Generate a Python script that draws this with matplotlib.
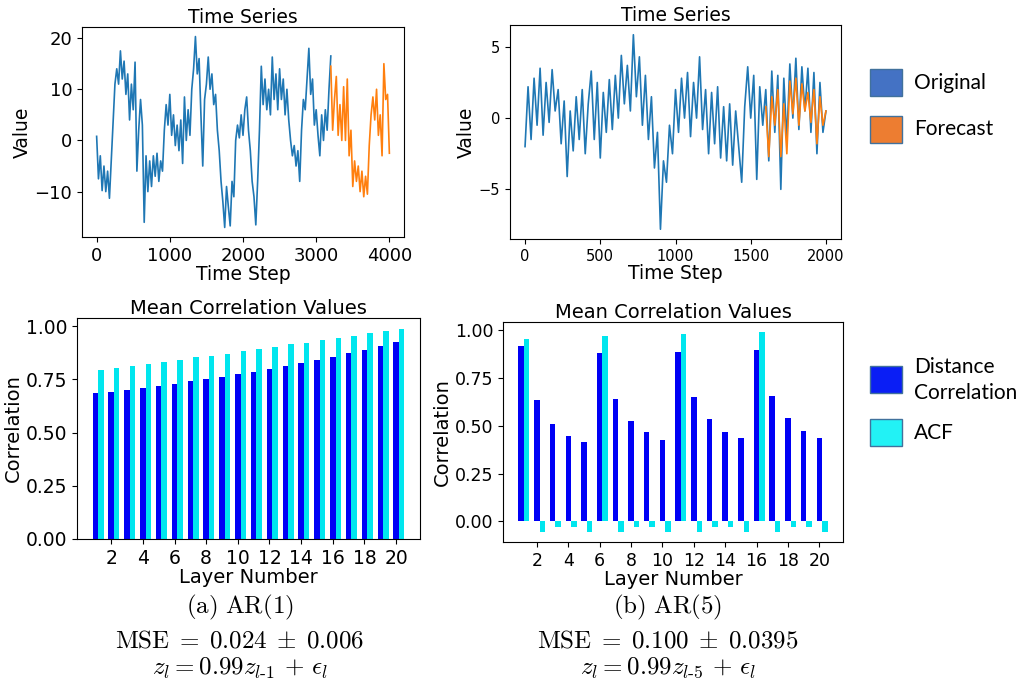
import numpy as np
import matplotlib
matplotlib.use("Agg")
from matplotlib import pyplot as plt
import matplotlib.patches as patches

# AR(1) series, every 25 steps
ar1_step = 25
ar1_fc_start = 3200
ar1_original = [0.8, -7.5, -3, -9.8, -5, -10, -6, -11.3, -4, 3,
                11, 14, 11, 17.5, 12, 15.5, 9, 13, 4, 11,
                6, 15.3, -6, 2, 8, 3, -16, -3, -10, -4,
                -9, -3, -7, -2.5, -8, -4, -6, 2, 7, 3,
                9, 1, 5, -1, 3, -2, 4, -4.5, 8.5, 0,
                6, 1, 10, 14, 20.3, 13, 16, 5, -5, 8,
                11, 16.3, 10, 13, 7, 9, 2, -2, -8, -12,
                -17, -9, -13, -16.7, -8, -11, 0, 3, 0.5, 5,
                1, 6, 8.5, 2, -2, -8, -11, -16.5, -8, 2,
                14.5, 7, 12, 6, 10, 5, 16.3, 8, 13, 6,
                14, 8, 12, 5, 10, 4, 0, -3, -1, -5,
                -2, -8, 2, 8, 6, 12, 18, 9, 12, 3,
                6, 1, -3, 5, 0, 6, 2, 10, 16.5]
ar1_forecast = [14.5, 2, 8, 12.5, 1, 7, 0, 10.5, 0, 12,
                -3, 2, -9, -4, -8, -5, -10, -6, -11, -7,
                -10.5, -1, 5, 8.5, 4, 10, 1, 5, -3, 15,
                8, 9, -2.5]

# AR(5) series, read every 20 steps
ar5_step = 20
ar5_fc_start = 1600
ar5_original = [-2.0, 2.2, -1.5, 2.8, -0.5, 3.5, -1.2, 2.5, -0.3, 3.4,
                0.5, 2.0, -1.8, 1.2, -4.1, 0.5, -2.3, 1.5, -1.5, 2.0,
                -2.5, 1.0, 3.3, -1.5, 2.5, -2.8, 1.8, -1.0, 2.7, -0.8,
                3.0, 0.0, 4.4, 1.0, 3.7, 0.5, 5.85, 1.5, 4.3, -0.5,
                3.0, -1.5, 1.5, -3.5, -1.0, -7.8, -3.0, -4.5, -0.5, -2.5,
                2.0, -1.0, 2.8, 0.0, 3.2, -1.3, 2.5, 0.0, 4.3, -0.8,
                2.0, -2.5, 1.8, -1.8, 2.2, -2.8, 0.8, -3.0, 1.0, -3.3,
                0.5, -2.0, -4.5, 0.8, 3.6, 0.0, 3.0, -4.3, 2.2, -0.5,
                2.0, -3.0, 3.3, -1.0, 3.0, -5.0, 2.8, -1.5, 3.8, 0.0,
                4.2, -0.8, 3.6, 0.5, 3.5, -1.0, 3.2, -2.5, 2.5, -1.0,
                0.5]
ar5_forecast = [0.8, -2.7, 1.5, -0.5, 2.0, -2.7, 1.0, -2.5, 2.6, 0.3,
                2.8, -0.5, 2.4, 0.5, 1.8, -0.3, 2.0, -1.8, 1.5, -0.5,
                0.5]

layers = np.arange(1, 21)
ar1_dcor = [0.685, 0.693, 0.702, 0.710, 0.719, 0.730, 0.741, 0.752, 0.763, 0.774,
            0.787, 0.801, 0.813, 0.829, 0.843, 0.857, 0.875, 0.890, 0.907, 0.926]
ar1_acf = [0.795, 0.804, 0.813, 0.823, 0.834, 0.842, 0.853, 0.862, 0.871, 0.882,
           0.892, 0.903, 0.914, 0.923, 0.934, 0.945, 0.956, 0.967, 0.978, 0.989]
ar5_dcor = [0.917, 0.631, 0.507, 0.446, 0.415, 0.881, 0.638, 0.526, 0.464, 0.427,
            0.886, 0.647, 0.533, 0.469, 0.433, 0.896, 0.656, 0.538, 0.474, 0.436]
ar5_acf = [0.953, -0.055, -0.031, -0.031, -0.055, 0.965, -0.055, -0.031, -0.031, -0.055,
           0.977, -0.055, -0.031, -0.031, -0.055, 0.988, -0.055, -0.031, -0.031, -0.055]

captions = [
    [r'$\mathrm{(a)\ AR(1)}$', r'$\mathrm{MSE}\;=\;0.024\;\pm\;0.006$',
     r'$z_l = 0.99z_{l\text{-}1}\,+\,\epsilon_l$'],
    [r'$\mathrm{(b)\ AR(5)}$', r'$\mathrm{MSE}\;=\;0.100\;\pm\;0.0395$',
     r'$z_l = 0.99z_{l\text{-}5}\,+\,\epsilon_l$'],
]

plt.rcParams['mathtext.fontset'] = 'cm'
W, H = 1022, 685
fig = plt.figure(figsize=(W / 100, H / 100), dpi=100)


def box(l, t, r, b):
    # pixel box -> figure fraction
    return [l / W, 1 - b / H, (r - l) / W, (b - t) / H]


def ts_plot(ax, orig, fc, step, fc_start, fs_tick):
    t0 = np.arange(len(orig)) * step
    t1 = fc_start + np.arange(len(fc)) * step
    ax.plot(t0, orig, color='#1f77b4', lw=1.2)
    ax.plot(t1, fc, color='#ff7f0e', lw=1.2)
    ax.set_title('Time Series', fontsize=13.5, pad=3)
    ax.set_xlabel('Time Step', fontsize=13.5, labelpad=0)
    ax.set_ylabel('Value', fontsize=13.5, labelpad=2)
    ax.tick_params(labelsize=fs_tick)


ax1 = fig.add_axes(box(82, 27, 404, 237))
ts_plot(ax1, ar1_original, ar1_forecast, ar1_step, ar1_fc_start, 13)
ax1.set_xticks([0, 1000, 2000, 3000, 4000])
ax1.set_yticks([-10, 0, 10, 20])

ax2 = fig.add_axes(box(510, 25, 841, 239))
ts_plot(ax2, ar5_original, ar5_forecast, ar5_step, ar5_fc_start, 10.5)
ax2.set_xticks([0, 500, 1000, 1500, 2000])
ax2.set_yticks([-5, 0, 5])

w = 0.35


def bar_plot(ax, dcor, acf, fs_tick):
    ax.bar(layers, dcor, w, color='#0000f5')
    ax.bar(layers + w, acf, w, color='#00e6ee')
    ax.set_title('Mean Correlation Values', fontsize=14, pad=3)
    ax.set_xlabel('Layer Number', fontsize=14, labelpad=0)
    ax.set_ylabel('Correlation', fontsize=14, labelpad=2)
    ax.set_xticks(np.arange(2, 21, 2))
    ax.set_yticks([0, 0.25, 0.5, 0.75, 1.0])
    ax.tick_params(labelsize=fs_tick)


ax3 = fig.add_axes(box(77, 318, 420, 539))
bar_plot(ax3, ar1_dcor, ar1_acf, 13.5)

ax4 = fig.add_axes(box(503, 322, 843, 542))
bar_plot(ax4, ar5_dcor, ar5_acf, 12.5)

# legends drawn as boxes with labels on the right
legend_items = [
    (69, '#4472c4', ['Original'], 83),
    (116, '#ed7d31', ['Forecast'], 129),
    (366, '#0a1ef5', ['Distance', 'Correlation'], 380),
    (419, '#22f2f5', ['ACF'], 433),
]
for top, col, lines, ty in legend_items:
    fig.patches.append(patches.Rectangle((870 / W, 1 - (top + 27) / H), 32 / W, 27 / H,
                                         transform=fig.transFigure, facecolor=col,
                                         edgecolor='#41719c', lw=1))
    fig.text(914 / W, 1 - ty / H, '\n'.join(lines), fontsize=15, family='Lato',
             va='center', ha='left', linespacing=1.35)

for cx, lines in zip([240, 668], captions):
    for y, s in zip([607, 640, 668], lines):
        fig.text(cx / W, 1 - y / H, s, fontsize=18, ha='center', va='center')

fig.savefig('out.png', dpi=100)
